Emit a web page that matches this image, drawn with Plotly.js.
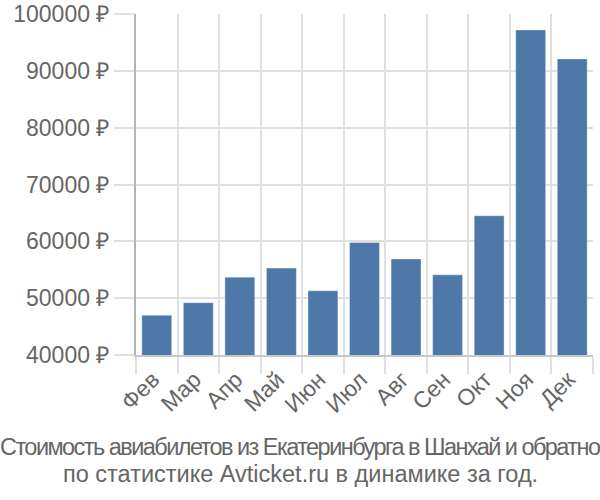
<!DOCTYPE html>
<html>
<head>
<meta charset="utf-8">
<script src="https://cdn.plot.ly/plotly-3.0.1.min.js"></script>
<style>html,body{margin:0;padding:0;background:#fff;}#chart{width:600px;height:500px;}</style>
</head>
<body>
<div id="chart"></div>
<script>
const months = ["Фев","Мар","Апр","Май","Июн","Июл","Авг","Сен","Окт","Ноя","Дек"];
const prices = [47000, 49200, 53700, 55300, 51300, 59800, 56900, 54100, 64500, 97200, 92100];
const yTicks = [40000, 50000, 60000, 70000, 80000, 90000, 100000];
const yTickLabels = yTicks.map(v => v + " ₽");
const titleLine1 = "Стоимость авиабилетов из Екатеринбурга в Шанхай и обратно";
const titleLine2 = "по статистике Avticket.ru в динамике за год.";

const font = "Liberation Sans, Arial, sans-serif";
const titleFont = {family: font, size: 23.5, color: "#666"};
const M = {l: 136, r: 7, t: 14, b: 145};
const plotW = 600 - M.l - M.r, plotH = 500 - M.t - M.b;
const centerX = (300 - M.l) / plotW;
Plotly.newPlot("chart", [{
  type: "bar",
  x: months,
  y: prices,
  marker: {color: "#4d78a8", line: {color: "rgba(255,255,255,0.35)", width: 1}},
  hoverinfo: "none"
}], {
  width: 600, height: 500,
  margin: M,
  paper_bgcolor: "#fff", plot_bgcolor: "#fff",
  bargap: 0.28,
  showlegend: false,
  xaxis: {
    type: "category",
    tickangle: -45,
    tickson: "boundaries",
    ticklabelshift: -4,
    ticks: "outside", ticklen: 17, tickcolor: "#e0e0e0", tickwidth: 2,
    showgrid: true, gridcolor: "#e0e0e0", gridwidth: 2,
    showline: true, linecolor: "#c8c8c8", linewidth: 2,
    tickfont: {family: font, size: 23, color: "#666"},
    fixedrange: true
  },
  yaxis: {
    range: [40000, 100000],
    tickmode: "array",
    tickvals: yTicks,
    ticktext: yTickLabels,
    ticks: "outside", ticklen: 20, tickcolor: "#e0e0e0", tickwidth: 2,
    showgrid: true, gridcolor: "#e0e0e0", gridwidth: 2,
    showline: true, linecolor: "#b4b4b4", linewidth: 2,
    zeroline: false,
    tickfont: {family: font, size: 23, color: "#666"},
    fixedrange: true
  },
  annotations: [
    {
      text: '<span style="letter-spacing:-1.55px">' + titleLine1 + '</span>',
      xref: "paper", yref: "paper", x: centerX, y: (355 - 447) / plotH,
      xanchor: "center", yanchor: "middle", showarrow: false,
      font: titleFont
    },
    {
      text: titleLine2,
      xref: "paper", yref: "paper", x: centerX, y: (355 - 474) / plotH,
      xanchor: "center", yanchor: "middle", showarrow: false,
      font: titleFont
    }
  ]
}, {displayModeBar: false, staticPlot: true});
</script>
</body>
</html>
